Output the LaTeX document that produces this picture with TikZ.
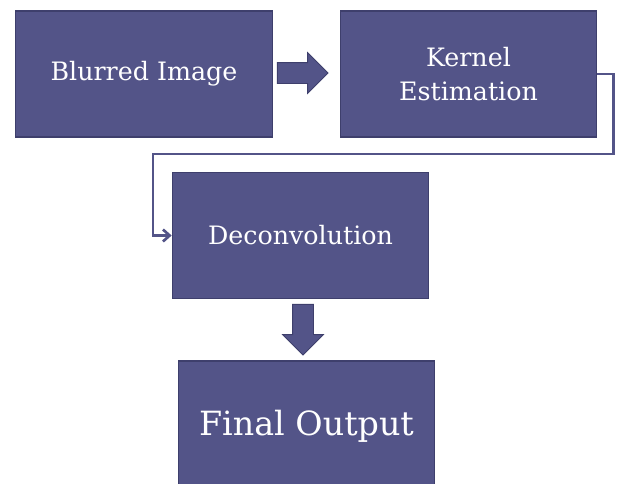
\documentclass[tikz,border=0pt]{standalone}
\usepackage{fontspec}
\setmainfont{DejaVu Serif}
\usetikzlibrary{shapes.arrows,arrows.meta}
\definecolor{boxfill}{RGB}{83,84,136}
\definecolor{boxedge}{RGB}{62,63,108}

\begin{document}
\begin{tikzpicture}[x=0.75pt,y=-0.75pt,
    stage/.style={draw=boxedge, line width=0.8pt, fill=boxfill, text=white, minimum width=192.5pt, minimum height=94.5pt, align=center, font=\fontsize{19}{26}\selectfont},
    blockarrow/.style={single arrow, draw=boxedge, fill=boxfill, line width=0.6pt, minimum height=38pt, minimum width=30pt, single arrow head extend=7.5pt, inner sep=7.5pt},
    link/.style={draw=boxfill, line width=2pt, -{Straight Barb[length=5pt,width=9pt]}}]
        \useasboundingbox (0,0) rectangle (617,483);
        % Nodes for the boxes
        \node[stage] (blur) at (144,74) {Blurred Image};
        \node[stage] (kernel) at (468.5,74) {Kernel\\Estimation};
        \node[stage] (deconv) at (300.5,235.5) {Deconvolution};
        \node[stage, minimum height=97.5pt, font=\fontsize{25}{30}\selectfont] (final) at (306.5,426) {Final Output};

        % Block arrows between the boxes
        \node[blockarrow] (step1) at (297.5,73) {};
        \node[blockarrow, shape border rotate=270] (step3) at (303,324.5) {};

        % Feedback line from kernel to deconvolution
        \draw[link] (kernel.east) -- ++(16,0) |- (153,154) |- (deconv.west);
    \end{tikzpicture}
\end{document}
